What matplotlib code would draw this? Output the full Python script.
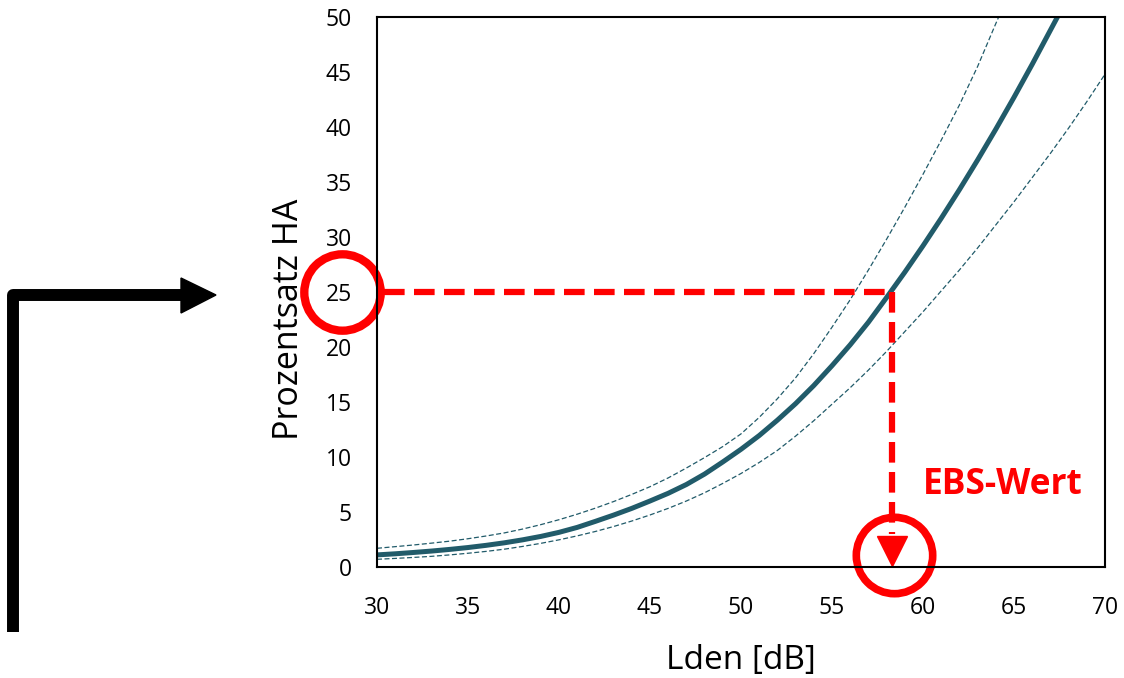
import matplotlib
matplotlib.use("Agg")
import matplotlib.pyplot as plt
from matplotlib.lines import Line2D
from matplotlib.patches import Polygon

plt.rcParams['font.family'] = ['Open Sans', 'DejaVu Sans']

# values (Lden in dB, % highly annoyed)
lden = list(range(30, 71))
ha_mid = [1.1, 1.2, 1.32, 1.45, 1.6, 1.77, 1.97, 2.2, 2.47, 2.78,
          3.15, 3.6, 4.15, 4.72, 5.33, 6.0, 6.7, 7.5, 8.45, 9.55,
          10.7, 11.95, 13.35, 14.85, 16.5, 18.3, 20.2, 22.25, 24.5, 26.8,
          29.2, 31.7, 34.3, 37.0, 39.8, 42.7, 45.7, 48.8, 51.9, 55.0, 58.2]
ha_upper = [1.7, 1.85, 2.0, 2.17, 2.35, 2.57, 2.82, 3.1, 3.45, 3.85,
            4.3, 4.8, 5.35, 5.95, 6.6, 7.3, 8.1, 9.0, 9.95, 10.95,
            12.1, 13.6, 15.3, 17.2, 19.4, 21.8, 24.3, 27.0, 29.8, 32.7,
            35.7, 38.8, 42.0, 45.5, 49.4, 53.2, 57.0, 60.9, 65.0, 69.0, 73.0]
ha_lower = [0.7, 0.78, 0.87, 0.97, 1.1, 1.25, 1.42, 1.62, 1.87, 2.15,
            2.47, 2.83, 3.23, 3.68, 4.18, 4.73, 5.33, 6.0, 6.75, 7.6,
            8.5, 9.5, 10.6, 11.9, 13.3, 14.8, 16.3, 17.9, 19.6, 21.4,
            23.2, 25.1, 27.0, 29.0, 31.1, 33.2, 35.4, 37.6, 39.9, 42.3, 44.8]

target_pct = 25
ebs_x = 58.3

W, H = 1124, 678
fig = plt.figure(figsize=(W / 100, H / 100), dpi=100)
ax = fig.add_axes([377 / W, 1 - 567 / H, 728 / W, 550 / H])

teal = '#215b6a'
red = '#ff0000'

ax.plot(lden, ha_mid, color=teal, lw=3.6, solid_capstyle='butt')
ax.plot(lden, ha_upper, color=teal, lw=0.9, ls=(0, (4, 2)))
ax.plot(lden, ha_lower, color=teal, lw=0.9, ls=(0, (4, 2)))

ax.set_xlim(30, 70)
ax.set_ylim(0, 50)
ax.set_xticks(range(30, 71, 5))
ax.set_yticks(range(0, 51, 5))
ax.tick_params(length=0, labelsize=16.5)
ax.tick_params(axis='x', pad=21)
ax.tick_params(axis='y', pad=18)
for s in ax.spines.values():
    s.set_linewidth(1.5)
    s.set_color('black')

ax.set_xlabel('Lden [dB]', fontsize=24, labelpad=17)
ax.set_ylabel('Prozentsatz HA', fontsize=24.5)
ax.yaxis.set_label_coords(-0.097, 0.45)

# red reading guide
ax.plot([30.4, ebs_x], [target_pct, target_pct], color=red, lw=4.5,
        dashes=(3.3, 1.5), clip_on=False)
ax.plot([ebs_x, ebs_x], [target_pct, 3.0], color=red, lw=4.5,
        dashes=(3.3, 1.5), clip_on=False)
ax.plot([ebs_x], [1.5], marker='v', ms=21, color=red, mec=red, clip_on=False)
ax.plot([28.1], [target_pct], marker='o', ms=55, mfc='none', mec=red, mew=6,
        clip_on=False)
ax.plot([ebs_x + 0.1], [1.1], marker='o', ms=55, mfc='none', mec=red, mew=5.5,
        clip_on=False)
ax.text(60.0, 7.5, 'EBS-Wert', color=red, fontsize=25.5, fontweight='bold',
        ha='left', va='center')


def px(x, y):
    return x / W, 1 - y / H


# black bent arrow on the left
xs, ys = zip(px(13, 632), px(13, 295), px(184, 295))
fig.add_artist(Line2D(xs, ys, color='black', lw=8.6, solid_joinstyle='round',
                      solid_capstyle='butt', transform=fig.transFigure))
fig.add_artist(Polygon([px(181, 278), px(181, 313), px(216, 295)], closed=True,
                       color='black', transform=fig.transFigure))

fig.savefig('out.png', dpi=100)
